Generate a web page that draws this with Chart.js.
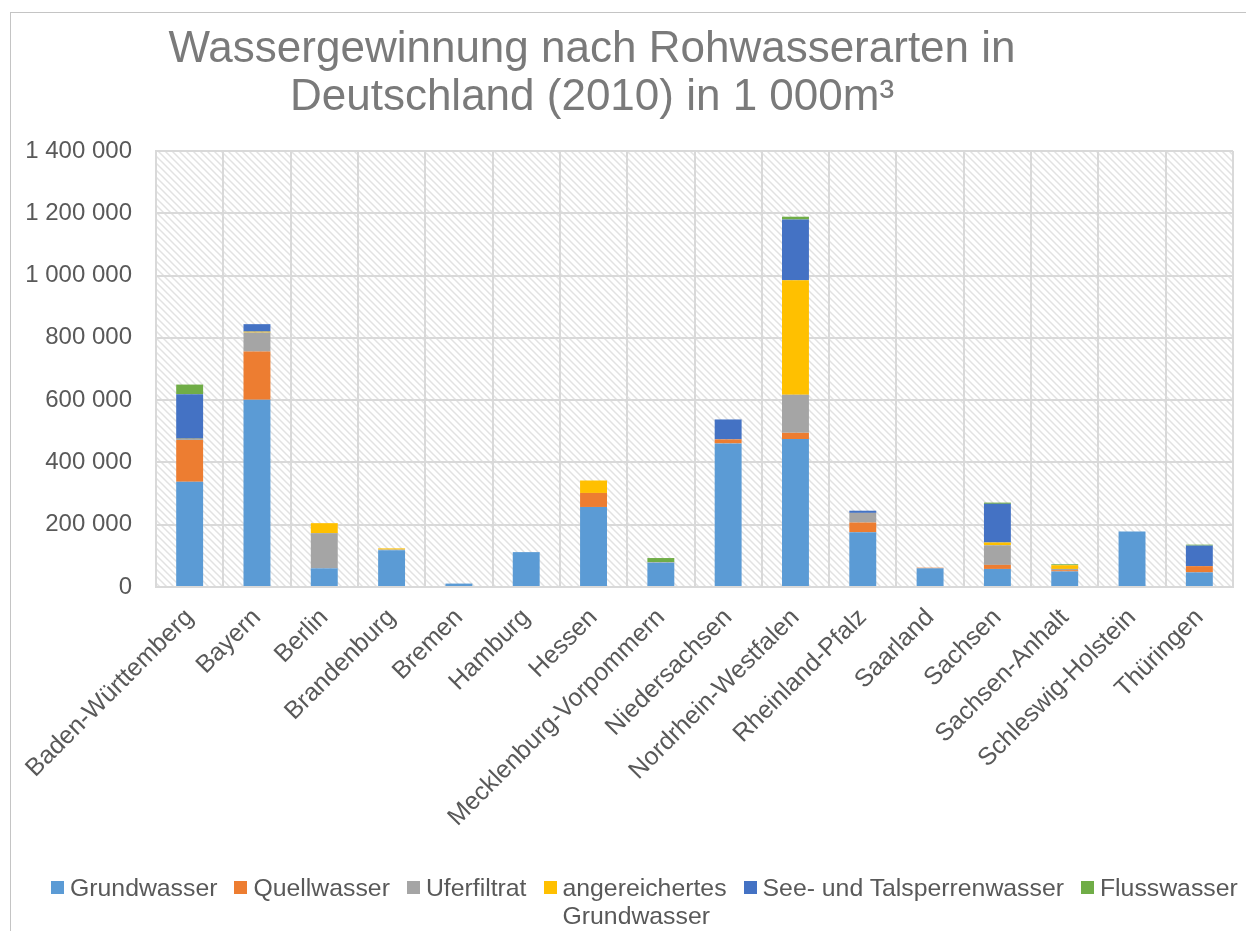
<!DOCTYPE html>
<html lang="de">
<head>
<meta charset="utf-8">
<title>Wassergewinnung nach Rohwasserarten</title>
<script src="https://cdn.jsdelivr.net/npm/chart.js@4.4.1/dist/chart.umd.min.js"></script>
<style>
    body { margin: 0; background: #fff; font-family: 'Liberation Sans', Arial, Helvetica, sans-serif; }
    #wrap { position: relative; width: 1246px; height: 931px; overflow: hidden; }
    #frame { position: absolute; left: 10px; top: 12px; width: 1300px; height: 1000px;
             border-left: 1px solid #c4c4c4; border-top: 1px solid #c4c4c4; }
    #chart { position: absolute; left: 0; top: 0; }
    #title { position: absolute; left: 0; top: 23px; width: 1184px; text-align: center;
             font-size: 44px; line-height: 48px; color: #7a7a7a; }
    #legend { position: absolute; left: 51px; top: 874px; width: 1400px; display: flex; align-items: flex-start; }
    .item { display: flex; align-items: flex-start; flex: none; margin-right: 17px; white-space: nowrap;
            font-size: 24.8px; line-height: 28px; color: #595959; }
    .box { width: 13px; height: 13px; margin: 7px 6px 0 0; flex: none; }
</style>
</head>
<body>
<div id="wrap">
    <div id="frame"></div>
    <canvas id="chart" width="1246" height="931"></canvas>
    <div id="title">Wassergewinnung nach Rohwasserarten in<br>Deutschland (2010) in 1 000m³</div>
    <div id="legend"></div>
</div>
<script>
    // Bundesländer (x axis)
    const laender = ['Baden-Württemberg', 'Bayern', 'Berlin', 'Brandenburg', 'Bremen', 'Hamburg', 'Hessen',
        'Mecklenburg-Vorpommern', 'Niedersachsen', 'Nordrhein-Westfalen', 'Rheinland-Pfalz', 'Saarland',
        'Sachsen', 'Sachsen-Anhalt', 'Schleswig-Holstein', 'Thüringen'];

    // values in 1 000 m³
    const grundwasser   = [338000, 601000, 60000, 118000, 11000, 112000, 257000, 78000, 461000, 475000, 176000, 60000, 58000, 50000, 178000, 47000];
    const quellwasser   = [134000, 155000, 0, 0, 0, 0, 45000, 0, 13000, 20000, 31000, 2000, 13000, 4000, 0, 20000];
    const uferfiltrat   = [3000, 61000, 113000, 2000, 0, 0, 0, 2000, 0, 122000, 31000, 0, 63000, 4000, 0, 0];
    const angereichert  = [1000, 3000, 32000, 4000, 0, 0, 40000, 0, 0, 368000, 0, 0, 9000, 12000, 0, 0];
    const seeTalsperren = [143000, 24000, 0, 0, 0, 0, 0, 0, 64000, 195000, 7000, 0, 124000, 0, 0, 66000];
    const flusswasser   = [31000, 0, 0, 0, 0, 0, 0, 13000, 0, 9000, 0, 0, 4000, 3000, 0, 3000];

    const seriesNames = ['Grundwasser', 'Quellwasser', 'Uferfiltrat', 'angereichertes Grundwasser', 'See- und Talsperrenwasser', 'Flusswasser'];
    const seriesData = [grundwasser, quellwasser, uferfiltrat, angereichert, seeTalsperren, flusswasser];
    const seriesColors = ['#5B9BD5', '#ED7D31', '#A5A5A5', '#FFC000', '#4472C4', '#70AD47'];

    // y axis ticks
    const yMax = 1400000;
    const yStep = 200000;

    const fontFamily = "'Liberation Sans', Arial, Helvetica, sans-serif";
    const gridColor = '#d9d9d9';

    // diagonal hatch used as plot background
    function makeHatch() {
        const size = 7;
        const c = document.createElement('canvas');
        c.width = size;
        c.height = size;
        const g = c.getContext('2d');
        g.fillStyle = '#ffffff';
        g.fillRect(0, 0, size, size);
        g.strokeStyle = '#e2e2e2';
        g.lineWidth = 1.5;
        g.beginPath();
        g.moveTo(-1, -1); g.lineTo(size + 1, size + 1);
        g.moveTo(-1, size - 1); g.lineTo(1, size + 1);
        g.moveTo(size - 1, -1); g.lineTo(size + 1, 1);
        g.stroke();
        return g.createPattern(c, 'repeat');
    }

    const hatchBackground = {
        id: 'hatchBackground',
        beforeDraw(chart) {
            const { ctx, chartArea } = chart;
            ctx.save();
            ctx.fillStyle = makeHatch();
            ctx.fillRect(chartArea.left, chartArea.top, chartArea.right - chartArea.left, chartArea.bottom - chartArea.top);
            ctx.restore();
        }
    };

    function formatThousands(v) {
        return String(v).replace(/\B(?=(\d{3})+(?!\d))/g, ' ');
    }

    const datasets = seriesNames.map((name, i) => ({
        label: name,
        data: seriesData[i],
        backgroundColor: seriesColors[i],
        borderWidth: 0,
        barPercentage: 0.4,
        categoryPercentage: 1
    }));

    new Chart(document.getElementById('chart'), {
        type: 'bar',
        data: { labels: laender, datasets: datasets },
        options: {
            responsive: false,
            animation: false,
            layout: { padding: { left: 0, top: 151, right: 13, bottom: 94 } },
            plugins: {
                legend: { display: false },
                title: { display: false },
                tooltip: { enabled: false }
            },
            scales: {
                x: {
                    stacked: true,
                    grid: { color: gridColor, lineWidth: 2, drawTicks: false, offset: true },
                    border: { color: gridColor, width: 2 },
                    ticks: {
                        color: '#595959',
                        font: { family: fontFamily, size: 25 },
                        minRotation: 45,
                        maxRotation: 45,
                        autoSkip: false,
                        padding: 16
                    },
                    afterFit: (scale) => { scale.height = 250; }
                },
                y: {
                    stacked: true,
                    min: 0,
                    max: yMax,
                    grid: { color: gridColor, lineWidth: 2, drawTicks: false },
                    border: { color: gridColor, width: 2 },
                    ticks: {
                        stepSize: yStep,
                        color: '#595959',
                        font: { family: fontFamily, size: 24 },
                        padding: 24,
                        callback: (v) => formatThousands(v)
                    },
                    afterFit: (scale) => { scale.width = 156; }
                }
            }
        },
        plugins: [hatchBackground]
    });

    // HTML legend built from the series arrays
    const legend = document.getElementById('legend');
    seriesNames.forEach((name, i) => {
        const item = document.createElement('div');
        item.className = 'item';
        const box = document.createElement('span');
        box.className = 'box';
        box.style.background = seriesColors[i];
        const text = document.createElement('span');
        text.textContent = name;
        if (name === 'angereichertes Grundwasser') {
            // wraps onto two lines like the original
            text.style.width = 'min-content';
            text.style.whiteSpace = 'normal';
        }
        item.appendChild(box);
        item.appendChild(text);
        legend.appendChild(item);
    });
</script>
</body>
</html>
